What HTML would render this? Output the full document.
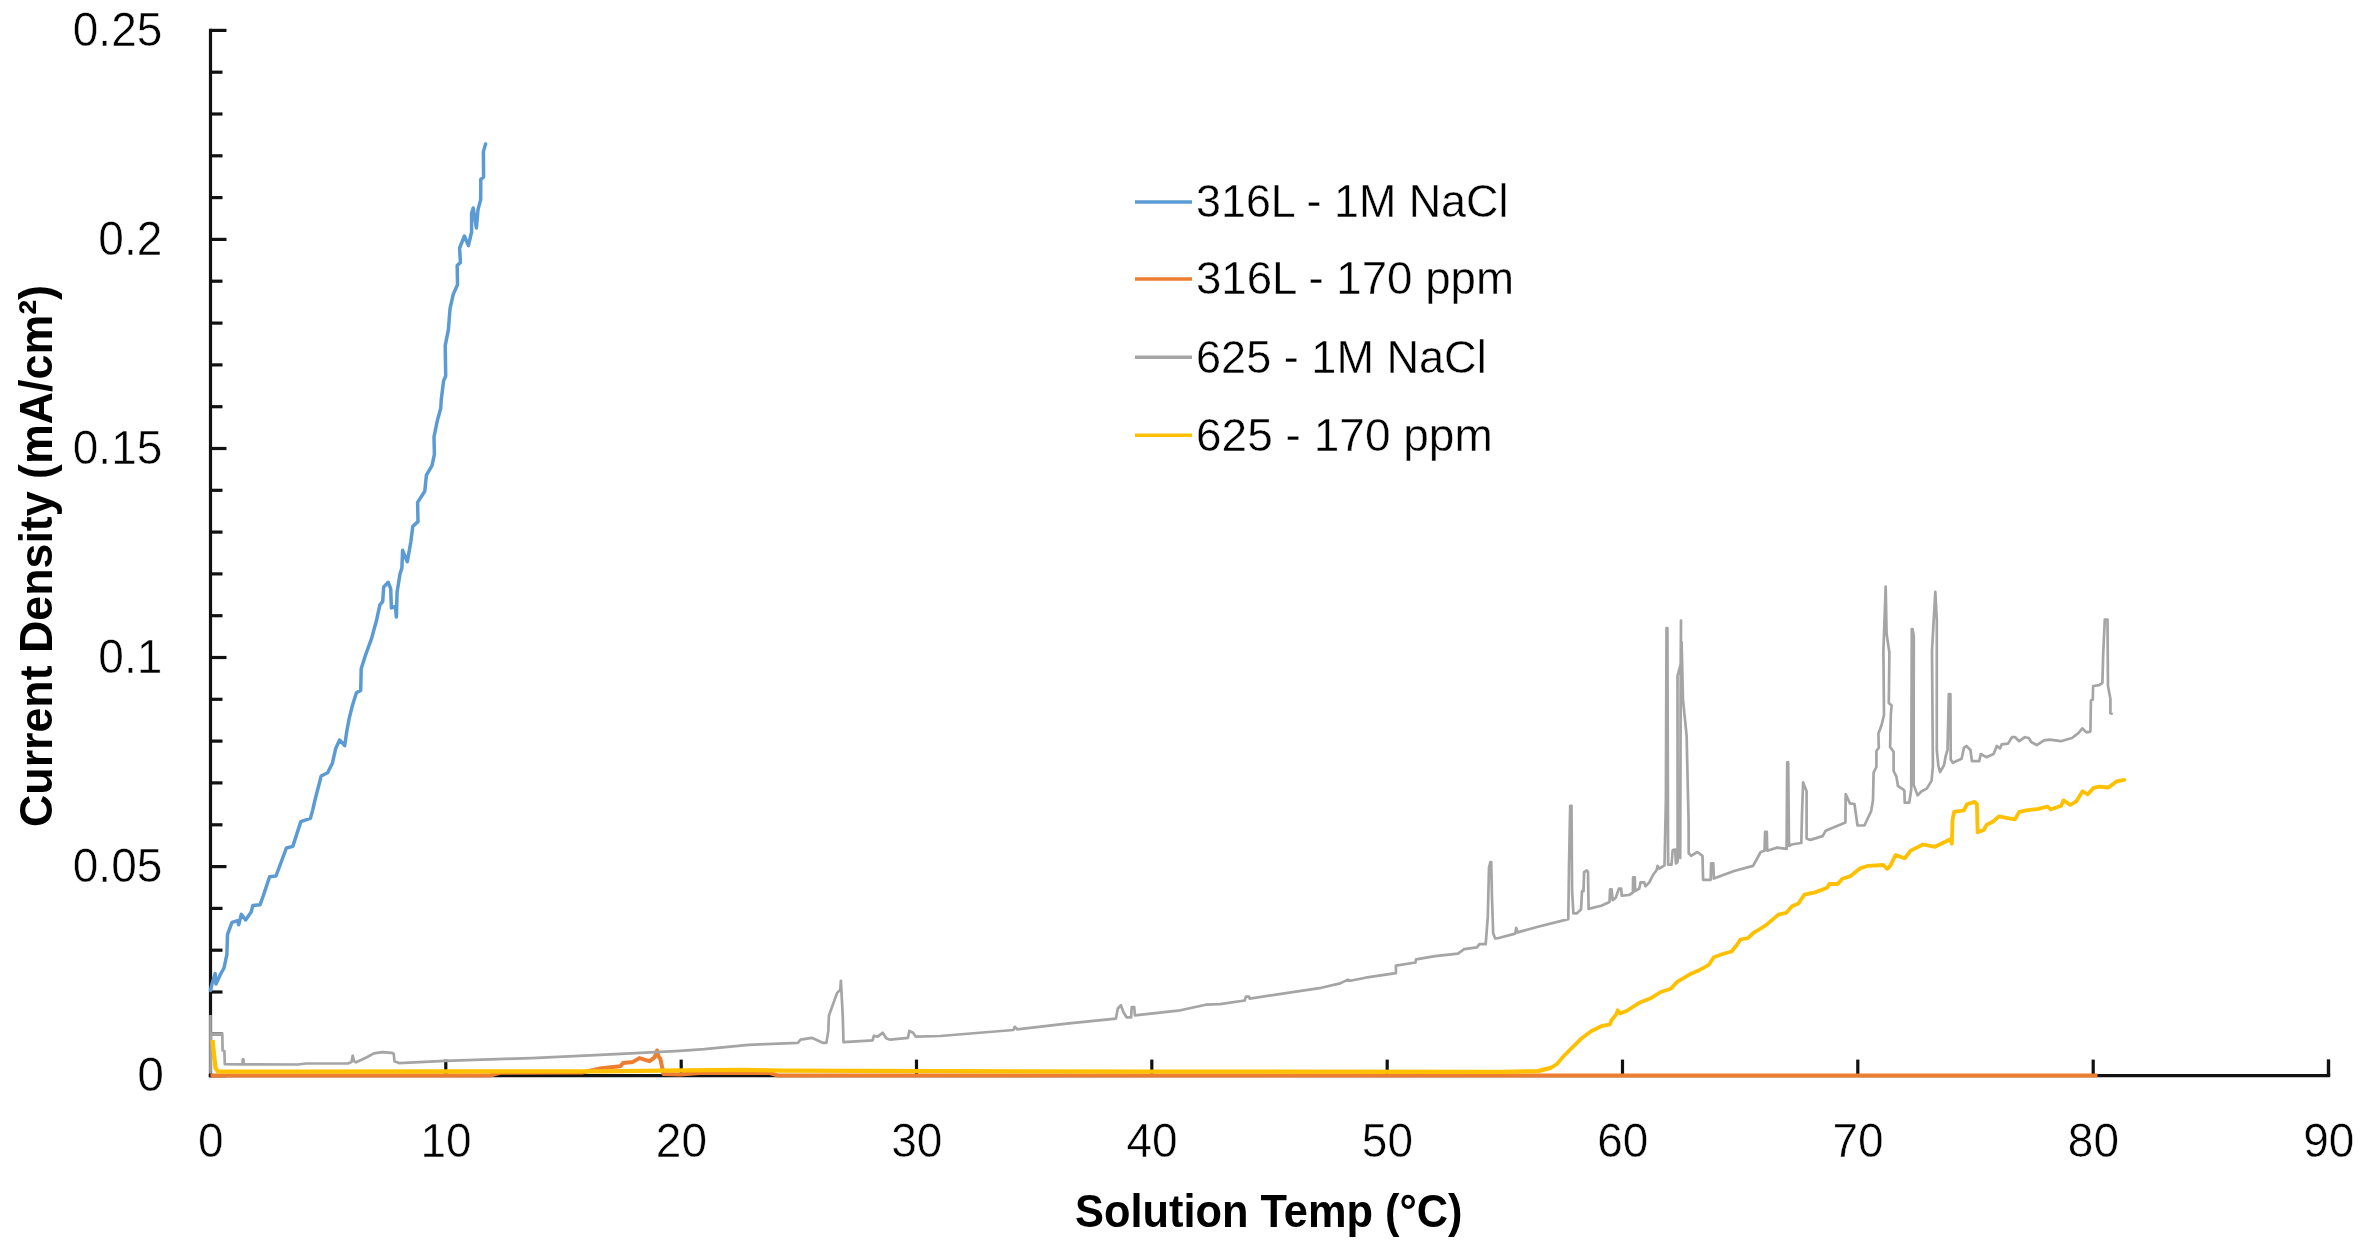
<!DOCTYPE html>
<html><head><meta charset="utf-8"><title>Current Density vs Solution Temp</title>
<style>
html,body{margin:0;padding:0;background:#fff;}
body{width:2371px;height:1250px;overflow:hidden;}
svg{display:block;filter:blur(0.45px);}
text{font-family:"Liberation Sans",sans-serif;fill:#000;}
.lab text{font-size:48px;stroke:#fff;stroke-width:0.5px;paint-order:fill stroke;}
.leg text{font-size:46.5px;stroke:#fff;stroke-width:0.4px;paint-order:fill stroke;}
.ttl{font-size:46px;font-weight:bold;}
</style></head><body>
<svg width="2371" height="1250" viewBox="0 0 2371 1250">
<rect width="2371" height="1250" fill="#fff"/>
<g stroke="#111" stroke-width="3.2" fill="none">
<line x1="210.5" y1="28.7" x2="210.5" y2="1077.3"/>
<line x1="208.8" y1="1075.6" x2="2330.2" y2="1075.6"/>
<line x1="2328.5" y1="1075.6" x2="2328.5" y2="1059.6"/>
<line x1="210.5" y1="1075.6" x2="226.5" y2="1075.6"/>
<line x1="210.5" y1="1033.8" x2="222.5" y2="1033.8"/>
<line x1="210.5" y1="992.0" x2="222.5" y2="992.0"/>
<line x1="210.5" y1="950.2" x2="222.5" y2="950.2"/>
<line x1="210.5" y1="908.4" x2="222.5" y2="908.4"/>
<line x1="210.5" y1="866.6" x2="226.5" y2="866.6"/>
<line x1="210.5" y1="824.8" x2="222.5" y2="824.8"/>
<line x1="210.5" y1="782.9" x2="222.5" y2="782.9"/>
<line x1="210.5" y1="741.1" x2="222.5" y2="741.1"/>
<line x1="210.5" y1="699.3" x2="222.5" y2="699.3"/>
<line x1="210.5" y1="657.5" x2="226.5" y2="657.5"/>
<line x1="210.5" y1="615.7" x2="222.5" y2="615.7"/>
<line x1="210.5" y1="573.9" x2="222.5" y2="573.9"/>
<line x1="210.5" y1="532.1" x2="222.5" y2="532.1"/>
<line x1="210.5" y1="490.3" x2="222.5" y2="490.3"/>
<line x1="210.5" y1="448.5" x2="226.5" y2="448.5"/>
<line x1="210.5" y1="406.7" x2="222.5" y2="406.7"/>
<line x1="210.5" y1="364.9" x2="222.5" y2="364.9"/>
<line x1="210.5" y1="323.1" x2="222.5" y2="323.1"/>
<line x1="210.5" y1="281.2" x2="222.5" y2="281.2"/>
<line x1="210.5" y1="239.4" x2="226.5" y2="239.4"/>
<line x1="210.5" y1="197.6" x2="222.5" y2="197.6"/>
<line x1="210.5" y1="155.8" x2="222.5" y2="155.8"/>
<line x1="210.5" y1="114.0" x2="222.5" y2="114.0"/>
<line x1="210.5" y1="72.2" x2="222.5" y2="72.2"/>
<line x1="210.5" y1="30.4" x2="226.5" y2="30.4"/>
<line x1="445.8" y1="1075.6" x2="445.8" y2="1059.6"/>
<line x1="681.2" y1="1075.6" x2="681.2" y2="1059.6"/>
<line x1="916.5" y1="1075.6" x2="916.5" y2="1059.6"/>
<line x1="1151.8" y1="1075.6" x2="1151.8" y2="1059.6"/>
<line x1="1387.2" y1="1075.6" x2="1387.2" y2="1059.6"/>
<line x1="1622.5" y1="1075.6" x2="1622.5" y2="1059.6"/>
<line x1="1857.8" y1="1075.6" x2="1857.8" y2="1059.6"/>
<line x1="2093.2" y1="1075.6" x2="2093.2" y2="1059.6"/>
<line x1="2328.5" y1="1075.6" x2="2328.5" y2="1059.6"/>
</g>
<g fill="none" stroke-width="3.5" stroke-linejoin="round" stroke-linecap="butt">
<polyline stroke="#5B9BD5" stroke-linecap="round" points="210.5,990.4 212.0,984.0 215.2,973.6 216.0,984.0 220.0,975.2 224.0,968.0 226.9,954.4 227.5,934.4 232.0,922.4 237.6,920.8 238.7,924.8 241.3,914.4 245.6,920.0 251.2,912.0 252.8,905.6 260.0,904.8 263.2,896.0 269.6,876.8 276.0,876.0 286.4,848.0 292.8,846.4 300.8,821.6 310.4,818.4 312.8,809.6 315.0,800.0 321.2,776.0 327.6,772.8 332.4,763.2 335.6,748.8 339.6,740.0 344.7,745.6 346.8,731.2 349.2,718.4 352.4,705.6 356.4,692.8 360.7,690.4 361.2,668.8 365.2,656.0 371.6,638.4 376.4,620.8 379.9,604.8 382.7,601.5 383.7,587.0 388.2,582.3 390.7,588.7 391.4,607.9 395.3,606.3 396.4,617.0 397.1,592.0 400.0,574.0 401.9,568.0 402.6,550.3 407.3,561.8 410.8,542.0 412.8,526.4 418.0,521.6 417.6,502.4 424.8,491.2 426.4,475.2 432.0,465.6 434.4,454.4 434.0,436.8 437.3,420.8 440.8,408.0 441.2,400.0 443.6,380.8 445.7,376.0 445.2,345.6 448.4,329.6 450.0,308.8 453.2,294.4 457.5,284.8 457.2,265.6 460.4,262.4 459.6,248.0 464.4,236.0 468.4,245.6 471.6,232.0 471.6,213.6 473.2,208.0 476.4,228.0 478.0,209.6 480.7,199.6 480.8,179.4 483.6,177.0 483.4,151.4 485.6,144.0"/>
<polyline stroke="#ED7D31" stroke-width="4" points="210.5,1075.5 490.0,1075.5 500.0,1072.8 582.0,1072.5 601.4,1068.2 620.4,1066.3 623.0,1063.1 633.0,1061.9 639.4,1058.1 649.5,1061.2 654.6,1057.4 657.1,1050.5 658.4,1056.2 660.3,1058.7 662.2,1067.6 663.4,1073.9 680.0,1074.5 700.0,1073.0 770.0,1073.0 778.0,1075.6 2097.5,1075.6"/>
<polyline stroke="#A5A5A5" stroke-width="2.7" points="210.5,1015.0 210.5,1072.5 211.0,1033.6 222.3,1033.6 222.6,1050.4 224.4,1051.0 224.8,1064.2 242.4,1064.4 242.8,1059.3 243.4,1059.3 243.8,1064.4 297.5,1064.5 306.0,1063.5 348.4,1063.3 351.5,1062.0 352.7,1055.5 354.0,1061.0 356.0,1062.3 365.4,1058.0 373.9,1053.4 382.4,1052.1 391.7,1052.8 393.8,1053.8 394.4,1061.2 399.0,1063.1 445.2,1060.8 531.8,1058.1 595.1,1055.2 645.7,1052.6 680.0,1050.8 704.3,1049.2 748.6,1044.8 797.9,1042.9 800.5,1039.7 811.8,1037.8 823.2,1042.9 826.4,1042.9 828.3,1030.9 828.9,1015.7 832.1,1006.8 837.1,992.9 840.3,989.7 840.9,980.9 842.8,1016.9 843.5,1042.2 872.6,1040.4 873.8,1035.9 877.6,1036.6 882.7,1032.8 886.5,1038.5 890.3,1039.7 908.0,1037.8 909.3,1030.9 913.1,1032.8 915.6,1036.6 940.0,1036.0 1013.4,1030.0 1014.7,1026.8 1017.2,1029.3 1066.5,1023.6 1115.9,1018.6 1117.8,1008.5 1120.9,1005.3 1123.5,1012.2 1126.6,1017.3 1131.1,1017.3 1131.7,1007.2 1134.2,1007.2 1134.9,1015.4 1180.4,1010.3 1205.7,1004.7 1220.0,1004.2 1244.7,1000.5 1245.9,996.7 1249.1,996.7 1249.7,998.6 1295.9,991.6 1321.2,987.8 1340.2,983.4 1347.8,979.6 1350.3,980.8 1365.5,977.7 1395.9,973.2 1395.9,965.7 1415.5,962.5 1416.1,959.3 1435.1,956.2 1457.9,953.6 1464.2,949.2 1476.9,947.3 1479.4,944.1 1485.7,944.1 1487.8,916.9 1489.0,867.6 1490.4,862.0 1491.2,862.0 1492.0,898.0 1493.2,933.4 1495.2,938.5 1499.6,937.8 1515.2,933.6 1516.2,927.9 1517.7,932.4 1538.0,926.7 1568.3,919.1 1569.0,865.9 1570.2,805.8 1571.5,805.8 1572.1,891.2 1573.4,913.4 1576.6,913.4 1581.0,909.6 1582.0,891.2 1583.5,891.2 1584.1,872.2 1586.7,870.3 1588.0,872.0 1588.6,908.9 1601.2,905.8 1609.5,902.0 1610.1,889.3 1611.6,889.3 1612.6,900.1 1615.8,897.6 1618.9,888.7 1621.2,888.7 1621.7,895.7 1629.1,895.0 1632.9,892.5 1633.1,877.3 1634.8,877.3 1635.1,891.2 1639.2,888.7 1640.5,882.4 1644.2,882.4 1645.5,886.2 1649.3,882.4 1653.1,874.8 1656.9,869.7 1657.5,865.9 1659.4,868.5 1664.5,865.3 1665.9,800.0 1666.5,628.0 1667.4,628.0 1668.1,864.7 1671.5,864.7 1672.7,850.1 1675.2,849.5 1675.9,863.4 1677.6,862.1 1677.6,790.0 1677.5,676.0 1680.7,664.0 1681.0,620.6 1680.6,700.0 1680.2,858.0 1680.7,700.0 1681.6,642.0 1683.0,700.0 1686.6,735.5 1688.6,822.0 1688.7,853.3 1691.1,855.8 1697.4,852.0 1702.5,855.8 1703.1,879.8 1710.7,879.8 1711.1,863.4 1713.3,863.4 1713.8,878.6 1734.1,871.0 1753.1,865.9 1760.7,852.0 1764.5,850.7 1765.1,831.8 1766.8,831.8 1767.2,850.7 1777.1,847.6 1786.6,848.8 1787.2,762.4 1788.2,762.4 1789.0,846.0 1791.4,844.5 1801.3,843.0 1802.0,814.1 1803.1,782.4 1806.6,791.3 1806.6,838.4 1810.4,839.9 1822.6,836.1 1825.6,830.8 1845.4,822.4 1845.7,794.0 1849.9,803.4 1854.5,804.2 1857.5,825.5 1864.4,825.5 1871.2,811.0 1873.0,800.0 1873.6,772.6 1876.4,767.0 1876.4,751.0 1878.8,747.8 1878.4,733.4 1881.6,725.0 1884.0,715.0 1883.4,651.0 1885.7,586.7 1886.6,634.0 1889.4,652.6 1888.8,703.0 1891.6,705.4 1890.8,715.0 1890.1,747.0 1893.6,751.8 1893.6,771.0 1896.4,776.6 1898.0,786.2 1903.2,789.4 1904.4,791.0 1904.7,802.7 1909.2,802.7 1911.2,790.0 1911.8,629.0 1912.6,629.0 1913.8,636.0 1913.6,784.6 1917.6,795.4 1921.6,791.2 1926.8,788.6 1931.6,780.6 1932.9,766.0 1932.0,651.0 1933.6,622.0 1935.3,591.8 1936.8,620.0 1936.8,750.0 1938.4,766.0 1940.0,772.0 1944.0,765.2 1945.6,756.4 1947.5,750.0 1948.8,694.0 1950.4,694.0 1950.7,759.6 1952.8,762.8 1961.6,758.8 1964.0,747.6 1966.4,746.0 1970.4,750.0 1972.0,761.2 1979.2,761.2 1980.8,754.0 1986.4,757.2 1993.6,754.0 1996.8,746.0 2000.0,748.4 2001.6,744.4 2008.0,743.6 2012.0,737.2 2015.2,737.2 2019.2,741.2 2024.8,737.2 2028.8,738.0 2031.2,742.0 2036.8,745.2 2044.0,740.4 2049.6,739.6 2060.8,741.2 2072.0,738.0 2078.4,733.2 2082.4,728.4 2086.4,732.4 2090.4,731.6 2090.9,700.4 2092.8,699.6 2093.1,686.0 2099.2,685.2 2102.4,682.8 2103.2,654.0 2104.8,619.6 2107.5,619.6 2108.0,686.0 2110.4,698.8 2110.4,713.2 2112.8,714.0"/>
<polyline stroke="#FFC000" stroke-width="4.3" points="212.5,1040.0 214.6,1060.0 215.5,1068.0 218.0,1071.6 300.0,1071.6 445.0,1071.5 600.0,1071.4 660.0,1070.6 743.0,1069.9 780.0,1070.6 940.0,1071.2 1150.0,1071.6 1500.0,1071.8 1538.0,1071.2 1550.6,1067.9"/>
<polyline stroke="#FFC000" stroke-width="3.8" stroke-linecap="round" points="1550.6,1067.9 1556.9,1064.1 1563.3,1056.5 1570.9,1048.9 1581.0,1038.8 1591.1,1031.2 1601.2,1026.2 1610.1,1024.3 1611.3,1020.5 1616.4,1014.1 1617.7,1010.3 1620.2,1013.5 1626.5,1011.0 1639.2,1002.8 1651.8,997.7 1660.7,992.0 1670.8,988.8 1677.1,981.9 1689.8,974.3 1697.4,971.1 1708.8,964.8 1713.8,957.2 1722.7,954.0 1731.6,951.5 1736.6,945.2 1740.4,939.5 1748.0,938.2 1753.1,933.2 1760.7,928.5 1765.7,925.4 1778.4,914.6 1786.1,912.9 1792.2,906.1 1798.2,903.8 1804.3,894.7 1815.0,892.4 1827.1,887.8 1829.4,884.0 1837.8,884.0 1842.3,878.7 1849.9,876.4 1860.6,868.1 1868.2,865.8 1883.4,865.0 1887.2,868.8 1890.2,865.8 1895.5,855.1 1904.7,858.2 1910.7,850.6 1922.9,844.5 1935.1,846.8 1945.7,841.5 1950.3,839.2 1951.8,843.7 1952.5,820.2 1954.1,811.8 1963.9,810.3 1967.0,804.2 1974.6,801.9 1976.9,804.2 1977.6,832.3 1983.7,830.0 1986.7,824.7 1992.8,821.7 1998.9,816.4 2006.5,817.9 2014.9,819.4 2019.4,811.8 2026.3,810.3 2038.4,808.8 2047.6,806.5 2050.6,809.5 2061.2,805.7 2063.5,800.4 2070.4,805.0 2076.4,801.2 2082.5,791.3 2087.8,794.3 2093.2,788.2 2099.2,786.7 2108.4,787.5 2116.7,781.4 2124.3,779.9"/>
</g>
<g class="lab">
<text transform="translate(163.9,1091.4) scale(1.0,1)" text-anchor="end">0</text>
<text transform="translate(162.3,882.4) scale(0.958,1)" text-anchor="end">0.05</text>
<text transform="translate(162.3,673.3) scale(0.958,1)" text-anchor="end">0.1</text>
<text transform="translate(162.3,464.3) scale(0.958,1)" text-anchor="end">0.15</text>
<text transform="translate(162.3,255.2) scale(0.958,1)" text-anchor="end">0.2</text>
<text transform="translate(162.3,46.2) scale(0.958,1)" text-anchor="end">0.25</text>
<text transform="translate(210.7,1157.3) scale(0.958,1)" text-anchor="middle">0</text>
<text transform="translate(446.0,1157.3) scale(0.958,1)" text-anchor="middle">10</text>
<text transform="translate(681.4,1157.3) scale(0.958,1)" text-anchor="middle">20</text>
<text transform="translate(916.7,1157.3) scale(0.958,1)" text-anchor="middle">30</text>
<text transform="translate(1152.0,1157.3) scale(0.958,1)" text-anchor="middle">40</text>
<text transform="translate(1387.4,1157.3) scale(0.958,1)" text-anchor="middle">50</text>
<text transform="translate(1622.7,1157.3) scale(0.958,1)" text-anchor="middle">60</text>
<text transform="translate(1858.0,1157.3) scale(0.958,1)" text-anchor="middle">70</text>
<text transform="translate(2093.4,1157.3) scale(0.958,1)" text-anchor="middle">80</text>
<text transform="translate(2328.7,1157.3) scale(0.958,1)" text-anchor="middle">90</text>
</g>
<g class="leg">
<line x1="1135" y1="202" x2="1192" y2="202" stroke="#5B9BD5" stroke-width="3.6"/>
<text x="1196" y="216.5" textLength="312.4" lengthAdjust="spacingAndGlyphs">316L - 1M NaCl</text>
<line x1="1135" y1="279" x2="1192" y2="279" stroke="#ED7D31" stroke-width="3.6"/>
<text x="1196" y="294" textLength="317.9" lengthAdjust="spacingAndGlyphs">316L - 170 ppm</text>
<line x1="1135" y1="357.3" x2="1192" y2="357.3" stroke="#A5A5A5" stroke-width="3.6"/>
<text x="1196" y="372.6" textLength="290.7" lengthAdjust="spacingAndGlyphs">625 - 1M NaCl</text>
<line x1="1135" y1="435.2" x2="1192" y2="435.2" stroke="#FFC000" stroke-width="3.6"/>
<text x="1196" y="450.5" textLength="296.8" lengthAdjust="spacingAndGlyphs">625 - 170 ppm</text>
</g>
<text class="ttl" x="1268.8" y="1226.6" text-anchor="middle" textLength="387.5" lengthAdjust="spacingAndGlyphs">Solution Temp (°C)</text>
<text class="ttl" transform="translate(51.8,556) rotate(-90)" text-anchor="middle" textLength="542" lengthAdjust="spacingAndGlyphs">Current Density (mA/cm²)</text>
</svg>
</body></html>
